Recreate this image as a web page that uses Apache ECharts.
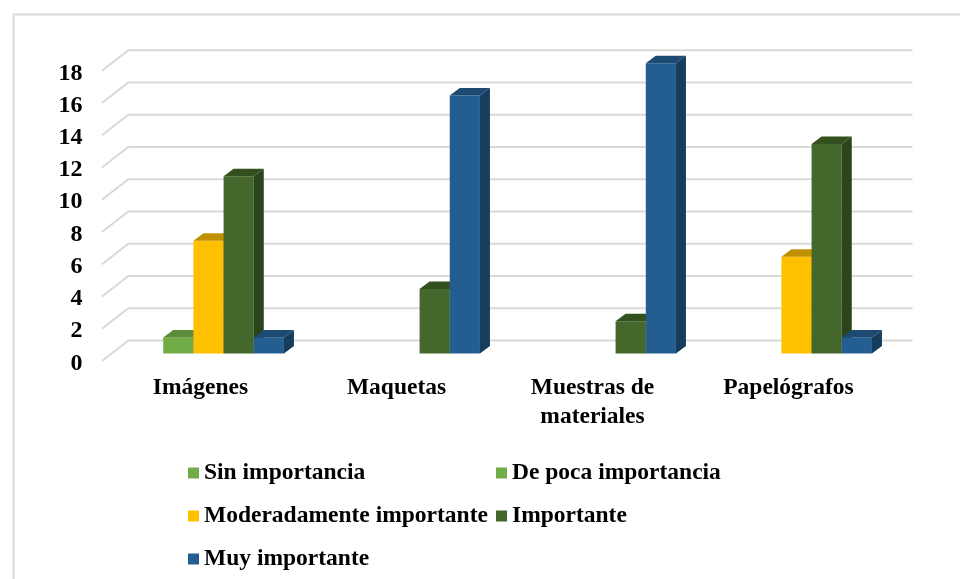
<!DOCTYPE html>
<html>
<head>
<meta charset="utf-8">
<script src="https://cdn.jsdelivr.net/npm/echarts@6/dist/echarts.min.js"></script>
<style>
  html, body { margin: 0; padding: 0; background: #fff; }
  #chart { width: 960px; height: 579px; }
</style>
</head>
<body>
<div id="chart"></div>
<script>
// Categories and values per importance level
const categories = ['Imágenes', 'Maquetas', 'Muestras de\nmateriales', 'Papelógrafos'];
const sinImportancia = [0, 0, 0, 0];
const dePocaImportancia = [1, 0, 0, 0];
const moderadamenteImportante = [7, 0, 0, 6];
const importante = [11, 4, 2, 13];
const muyImportante = [1, 16, 18, 1];
const yTicks = [0, 2, 4, 6, 8, 10, 12, 14, 16, 18];

const FONT = '"Liberation Serif", "Times New Roman", serif';

// front / top / side shades for each level
const levels = [
  { name: 'Sin importancia', data: sinImportancia, front: '#70AD47', top: '#5A8C39', side: '#4B7630' },
  { name: 'De poca importancia', data: dePocaImportancia, front: '#70AD47', top: '#5A8C39', side: '#4B7630' },
  { name: 'Moderadamente importante', data: moderadamenteImportante, front: '#FFC000', top: '#BF9000', side: '#A07A00' },
  { name: 'Importante', data: importante, front: '#44682B', top: '#33501F', side: '#2B441B' },
  { name: 'Muy importante', data: muyImportante, front: '#245E91', top: '#1C4A73', side: '#173D5E' }
];

const DEPTH_X = 10, DEPTH_Y = -7.5;
const BAR_FRACTION = 0.154; // of the category band

function barRenderer(idx, lv) {
  return function (params, api) {
    const cat = api.value(0);
    const val = api.value(1);
    if (!val) return null;
    const base = api.coord([cat, 0]);
    const topPt = api.coord([cat, val]);
    const band = api.size([1, 0])[0];
    const w = band * BAR_FRACTION;
    const x = base[0] - (w * levels.length) / 2 + idx * w;
    const ty = topPt[1], by = base[1];
    return {
      type: 'group',
      children: [
        { type: 'rect', shape: { x: x, y: ty, width: w, height: by - ty },
          style: { fill: lv.front } },
        { type: 'polygon', shape: { points: [[x, ty], [x + DEPTH_X, ty + DEPTH_Y], [x + w + DEPTH_X, ty + DEPTH_Y], [x + w, ty]] },
          style: { fill: lv.top } },
        { type: 'polygon', shape: { points: [[x + w, ty], [x + w + DEPTH_X, ty + DEPTH_Y], [x + w + DEPTH_X, by + DEPTH_Y], [x + w, by]] },
          style: { fill: lv.side } }
      ]
    };
  };
}

// back wall and side wall gridlines at each tick
function wallRenderer(params, api) {
  const y = api.coord([0, api.value(1)])[1];
  const cs = params.coordSys;
  return {
    type: 'polyline',
    shape: { points: [[cs.x - 8.5, y + 7.5], [cs.x + 17.8, y - 13], [cs.x + cs.width + 18, y - 13]] },
    style: { stroke: '#d9d9d9', lineWidth: 2, fill: null }
  };
}

const chart = echarts.init(document.getElementById('chart'));

const series = [{
  type: 'custom',
  name: 'wall',
  z: 1,
  silent: true,
  renderItem: wallRenderer,
  encode: { x: 0, y: 1 },
  data: yTicks.map(v => [0, v])
}].concat(levels.map((lv, i) => ({
  type: 'custom',
  name: lv.name,
  z: 2,
  itemStyle: { color: lv.front },
  renderItem: barRenderer(i, lv),
  encode: { x: 0, y: 1 },
  data: lv.data.map((v, c) => [c, v])
})));

const legendText = { fontFamily: FONT, fontSize: 23.5, fontWeight: 'bold', color: '#000', lineHeight: 24 };

chart.setOption({
  backgroundColor: '#fff',
  animation: false,
  grid: { left: 110.5, width: 784, top: 63.3, height: 290.2 },
  xAxis: {
    type: 'category',
    data: categories,
    axisLine: { show: false },
    axisTick: { show: false },
    splitLine: { show: false },
    axisLabel: {
      interval: 0,
      margin: 20,
      fontFamily: FONT, fontSize: 23.5, fontWeight: 'bold', color: '#000', lineHeight: 29,
      padding: [0, 16, 0, 0]
    }
  },
  yAxis: {
    type: 'value',
    min: 0, max: 18, interval: 2,
    axisLine: { show: false },
    axisTick: { show: false },
    splitLine: { show: false },
    axisLabel: {
      margin: 28,
      fontFamily: FONT, fontSize: 24, fontWeight: 'bold', color: '#000',
      verticalAlign: 'top', lineHeight: 20
    }
  },
  legend: [
    {
      data: ['Sin importancia', 'Moderadamente importante', 'Muy importante'],
      orient: 'vertical', left: 183, top: 456,
      icon: 'rect', itemWidth: 11, itemHeight: 11, itemGap: 19,
      textStyle: legendText, selectedMode: false
    },
    {
      data: ['De poca importancia', 'Importante'],
      orient: 'vertical', left: 491, top: 456,
      icon: 'rect', itemWidth: 11, itemHeight: 11, itemGap: 19,
      textStyle: legendText, selectedMode: false
    }
  ],
  graphic: [
    { type: 'line', shape: { x1: 13.5, y1: 14, x2: 13.5, y2: 579 }, style: { stroke: '#d9d9d9', lineWidth: 2 } },
    { type: 'line', shape: { x1: 13, y1: 14.5, x2: 960, y2: 14.5 }, style: { stroke: '#d9d9d9', lineWidth: 2 } }
  ],
  series: series
});
</script>
</body>
</html>
